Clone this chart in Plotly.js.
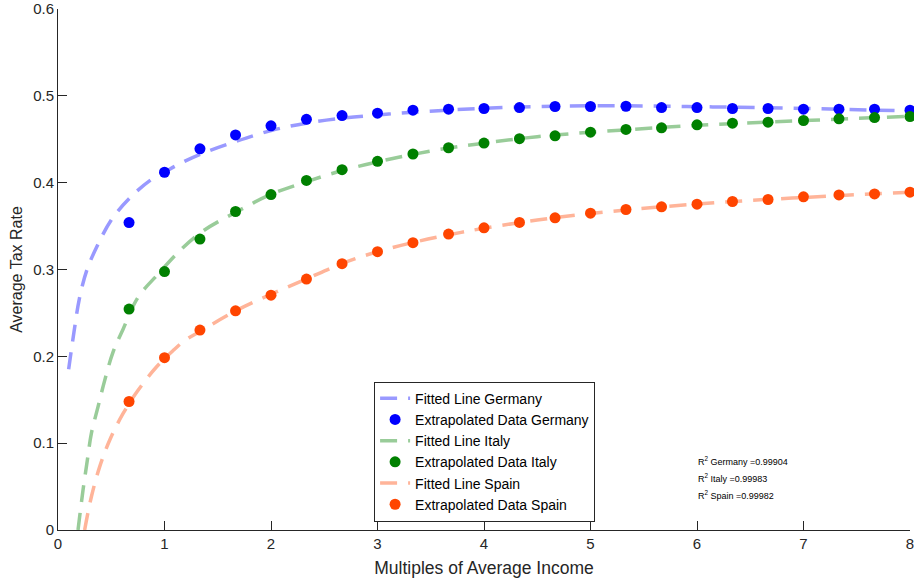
<!DOCTYPE html>
<html>
<head>
<meta charset="utf-8">
<script src="https://cdn.plot.ly/plotly-3.0.1.min.js"></script>
<style>
  html, body { margin: 0; padding: 0; background: #fff; }
  #chart { width: 914px; height: 583px; }
</style>
</head>
<body>
<div id="chart"></div>
<script>
var colours = ['#0000ff', '#008000', '#ff4500'];
var fitColours = ['#9999ff', '#99cc99', '#ffb499'];

// extrapolated data, x in multiples of average income
var xData = [0.667, 1, 1.333, 1.667, 2, 2.333, 2.667, 3, 3.333, 3.667, 4, 4.333,
  4.667, 5, 5.333, 5.667, 6, 6.333, 6.667, 7, 7.333, 7.667, 8];

var germany = [0.354, 0.412, 0.439, 0.455, 0.4655, 0.473, 0.4773, 0.480, 0.4835, 0.4846,
  0.4854, 0.4865, 0.4877, 0.4877, 0.488, 0.4865, 0.4865, 0.4854, 0.4854, 0.4846,
  0.4846, 0.4846, 0.4835];

var italy = [0.2544, 0.2976, 0.335, 0.3668, 0.3863, 0.4026, 0.415, 0.4246, 0.433, 0.4402,
  0.4456, 0.4506, 0.454, 0.4582, 0.4613, 0.4632, 0.4666, 0.4685, 0.4697, 0.4716,
  0.4735, 0.475, 0.4762];

var spain = [0.148, 0.1985, 0.2303, 0.2524, 0.2704, 0.289, 0.3067, 0.3205, 0.3309, 0.3408,
  0.348, 0.3542, 0.3595, 0.3649, 0.3691, 0.3722, 0.3752, 0.3783, 0.3806, 0.3837,
  0.3859, 0.387, 0.389];

// fitted lines
var xFitGermany = [0.1, 0.15, 0.2, 0.27, 0.36, 0.5, 0.67, 0.875, 1, 1.13, 1.34, 1.67,
  2, 2.33, 2.67, 3, 3.33, 4, 5, 6, 7, 8];
var fitGermany = [0.185, 0.228, 0.266, 0.299, 0.325, 0.357, 0.382, 0.4035, 0.412, 0.421,
  0.433, 0.4475, 0.46, 0.4685, 0.4743, 0.478, 0.481, 0.4857, 0.4885, 0.4875, 0.4855, 0.4825];

var xFitItaly = [0.188, 0.235, 0.275, 0.313, 0.375, 0.438, 0.516, 0.61, 0.75, 0.938, 1.157,
  1.36, 1.67, 2, 2.33, 2.67, 3, 3.33, 3.67, 4, 4.5, 5, 6, 7, 8];
var fitItaly = [0, 0.046, 0.080, 0.111, 0.1415, 0.172, 0.2046, 0.231, 0.2677, 0.2945, 0.3232,
  0.3442, 0.366, 0.3865, 0.401, 0.414, 0.424, 0.4325, 0.440, 0.4455, 0.453, 0.458, 0.466,
  0.4715, 0.4765];

var xFitSpain = [0.25, 0.313, 0.391, 0.485, 0.61, 0.75, 0.922, 1.079, 1.188, 1.344, 1.67,
  2, 2.33, 2.67, 3, 3.33, 3.67, 4, 4.5, 5, 6, 7, 8];
var fitSpain = [0, 0.038, 0.0727, 0.1033, 0.1339, 0.1606, 0.1874, 0.2065, 0.218, 0.2295,
  0.2524, 0.2715, 0.289, 0.307, 0.3205, 0.331, 0.340, 0.3475, 0.357, 0.3645, 0.3755,
  0.383, 0.389];

var xTicks = [0, 1, 2, 3, 4, 5, 6, 7, 8];
var yTicks = [0, 0.1, 0.2, 0.3, 0.4, 0.5, 0.6];

var rSquared = ['R<sup>2</sup> Germany =0.99904', 'R<sup>2</sup> Italy =0.99983', 'R<sup>2</sup> Spain =0.99982'];
var rSquaredY = [0.0792, 0.0597, 0.0402];

function fitTrace(x, y, name, colour) {
  return {
    x: x, y: y, name: name, type: 'scatter', mode: 'lines',
    line: {color: colour, width: 3.5, dash: '17px,11px', shape: 'spline'}
  };
}

function dataTrace(x, y, name, colour) {
  return {
    x: x, y: y, name: name, type: 'scatter', mode: 'markers',
    marker: {color: colour, size: 11}, cliponaxis: false
  };
}

var data = [
  fitTrace(xFitGermany, fitGermany, 'Fitted Line Germany', fitColours[0]),
  dataTrace(xData, germany, 'Extrapolated Data Germany', colours[0]),
  fitTrace(xFitItaly, fitItaly, 'Fitted Line Italy', fitColours[1]),
  dataTrace(xData, italy, 'Extrapolated Data Italy', colours[1]),
  fitTrace(xFitSpain, fitSpain, 'Fitted Line Spain', fitColours[2]),
  dataTrace(xData, spain, 'Extrapolated Data Spain', colours[2])
];

var axisColour = '#262626';
var font = 'Liberation Sans, Arial, Helvetica, sans-serif';

var annotations = rSquared.map(function(t, i) {
  return {
    text: t, x: 5.99, y: rSquaredY[i], xref: 'x', yref: 'y', xanchor: 'left', yanchor: 'middle',
    showarrow: false, font: {size: 9, color: '#000', family: font}
  };
});

var layout = {
  width: 914, height: 583,
  margin: {l: 58, r: 4, t: 9, b: 53},
  paper_bgcolor: '#fff', plot_bgcolor: '#fff',
  font: {family: font, color: axisColour},
  showlegend: true,
  legend: {
    x: 0.371, xanchor: 'left', y: 0.016, yanchor: 'bottom',
    bgcolor: '#fff', bordercolor: axisColour, borderwidth: 1,
    font: {size: 14, color: '#000', family: font}, tracegroupgap: 0
  },
  xaxis: {
    range: [0, 8], tickmode: 'array', tickvals: xTicks, showgrid: false, zeroline: false,
    showline: true, linecolor: axisColour, linewidth: 1,
    ticks: 'inside', ticklen: 9, tickcolor: axisColour, ticklabeloverflow: 'allow',
    tickfont: {size: 15, color: axisColour},
    title: {text: 'Multiples of Average Income', font: {size: 17.5, color: axisColour}, standoff: 10}
  },
  yaxis: {
    range: [0, 0.6], tickmode: 'array', tickvals: yTicks, showgrid: false, zeroline: false,
    showline: true, linecolor: axisColour, linewidth: 1,
    ticks: 'inside', ticklen: 9, tickcolor: axisColour, ticklabeloverflow: 'allow',
    tickfont: {size: 15, color: axisColour},
    title: {text: 'Average Tax Rate', font: {size: 16, color: axisColour}, standoff: 6}
  },
  annotations: annotations
};

Plotly.newPlot('chart', data, layout, {displayModeBar: false, staticPlot: true});
</script>
</body>
</html>
